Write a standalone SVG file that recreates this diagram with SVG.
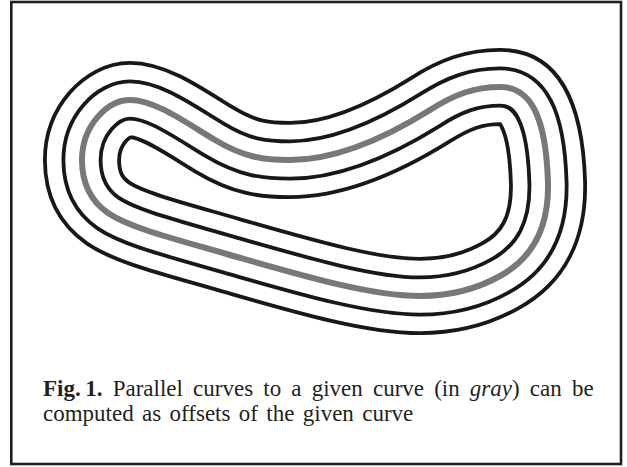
<svg xmlns="http://www.w3.org/2000/svg" xmlns:xlink="http://www.w3.org/1999/xlink" width="627" height="467" viewBox="0 0 627 467">
  <style>
    .frame { fill: none; stroke: #231f20; stroke-width: 2.6; }
    .c { fill: none; stroke-linejoin: round; }
    .blk { stroke: #1a1718; }
    .wht { stroke: #ffffff; }
    .gry { stroke: #77787b; }
    .cap { font-family: "Liberation Serif", "Times New Roman", serif; font-size: 23px; fill: #231f20; }
  </style>
  <defs>
    <path id="given" d="M 82,160 C 82,125 108,100 130,100 C 155,100 185,122 215,140 C 245,158 265,160 290,160 C 340,160 390,135 430,110 C 455,94 475,87 500,87 C 530,87 546,115 548,183 C 549,228 533,258 500,276 C 475,290 450,296 420,296 C 370,296 300,275 230,255 C 175,239 130,228 108,213 C 88,199 82,180 82,160 Z"/>
  </defs>
  <rect class="frame" x="11.3" y="2" width="609.7" height="462"/>
  <g id="parallel-curves">
    <use xlink:href="#given" class="c blk" stroke-width="78"/>
    <use xlink:href="#given" class="c wht" stroke-width="70.4"/>
    <use xlink:href="#given" class="c blk" stroke-width="41"/>
    <use xlink:href="#given" class="c wht" stroke-width="33.4"/>
    <use id="given-curve" xlink:href="#given" class="c gry" stroke-width="6"/>
  </g>
  <g id="caption" class="cap">
    <text x="43" y="396" word-spacing="4.4"><tspan font-weight="bold">Fig.&#8201;1.</tspan> Parallel curves to a given curve (in <tspan font-style="italic">gray</tspan>) can be</text>
    <text x="43" y="421" word-spacing="2.6">computed as offsets of the given curve</text>
  </g>
</svg>
